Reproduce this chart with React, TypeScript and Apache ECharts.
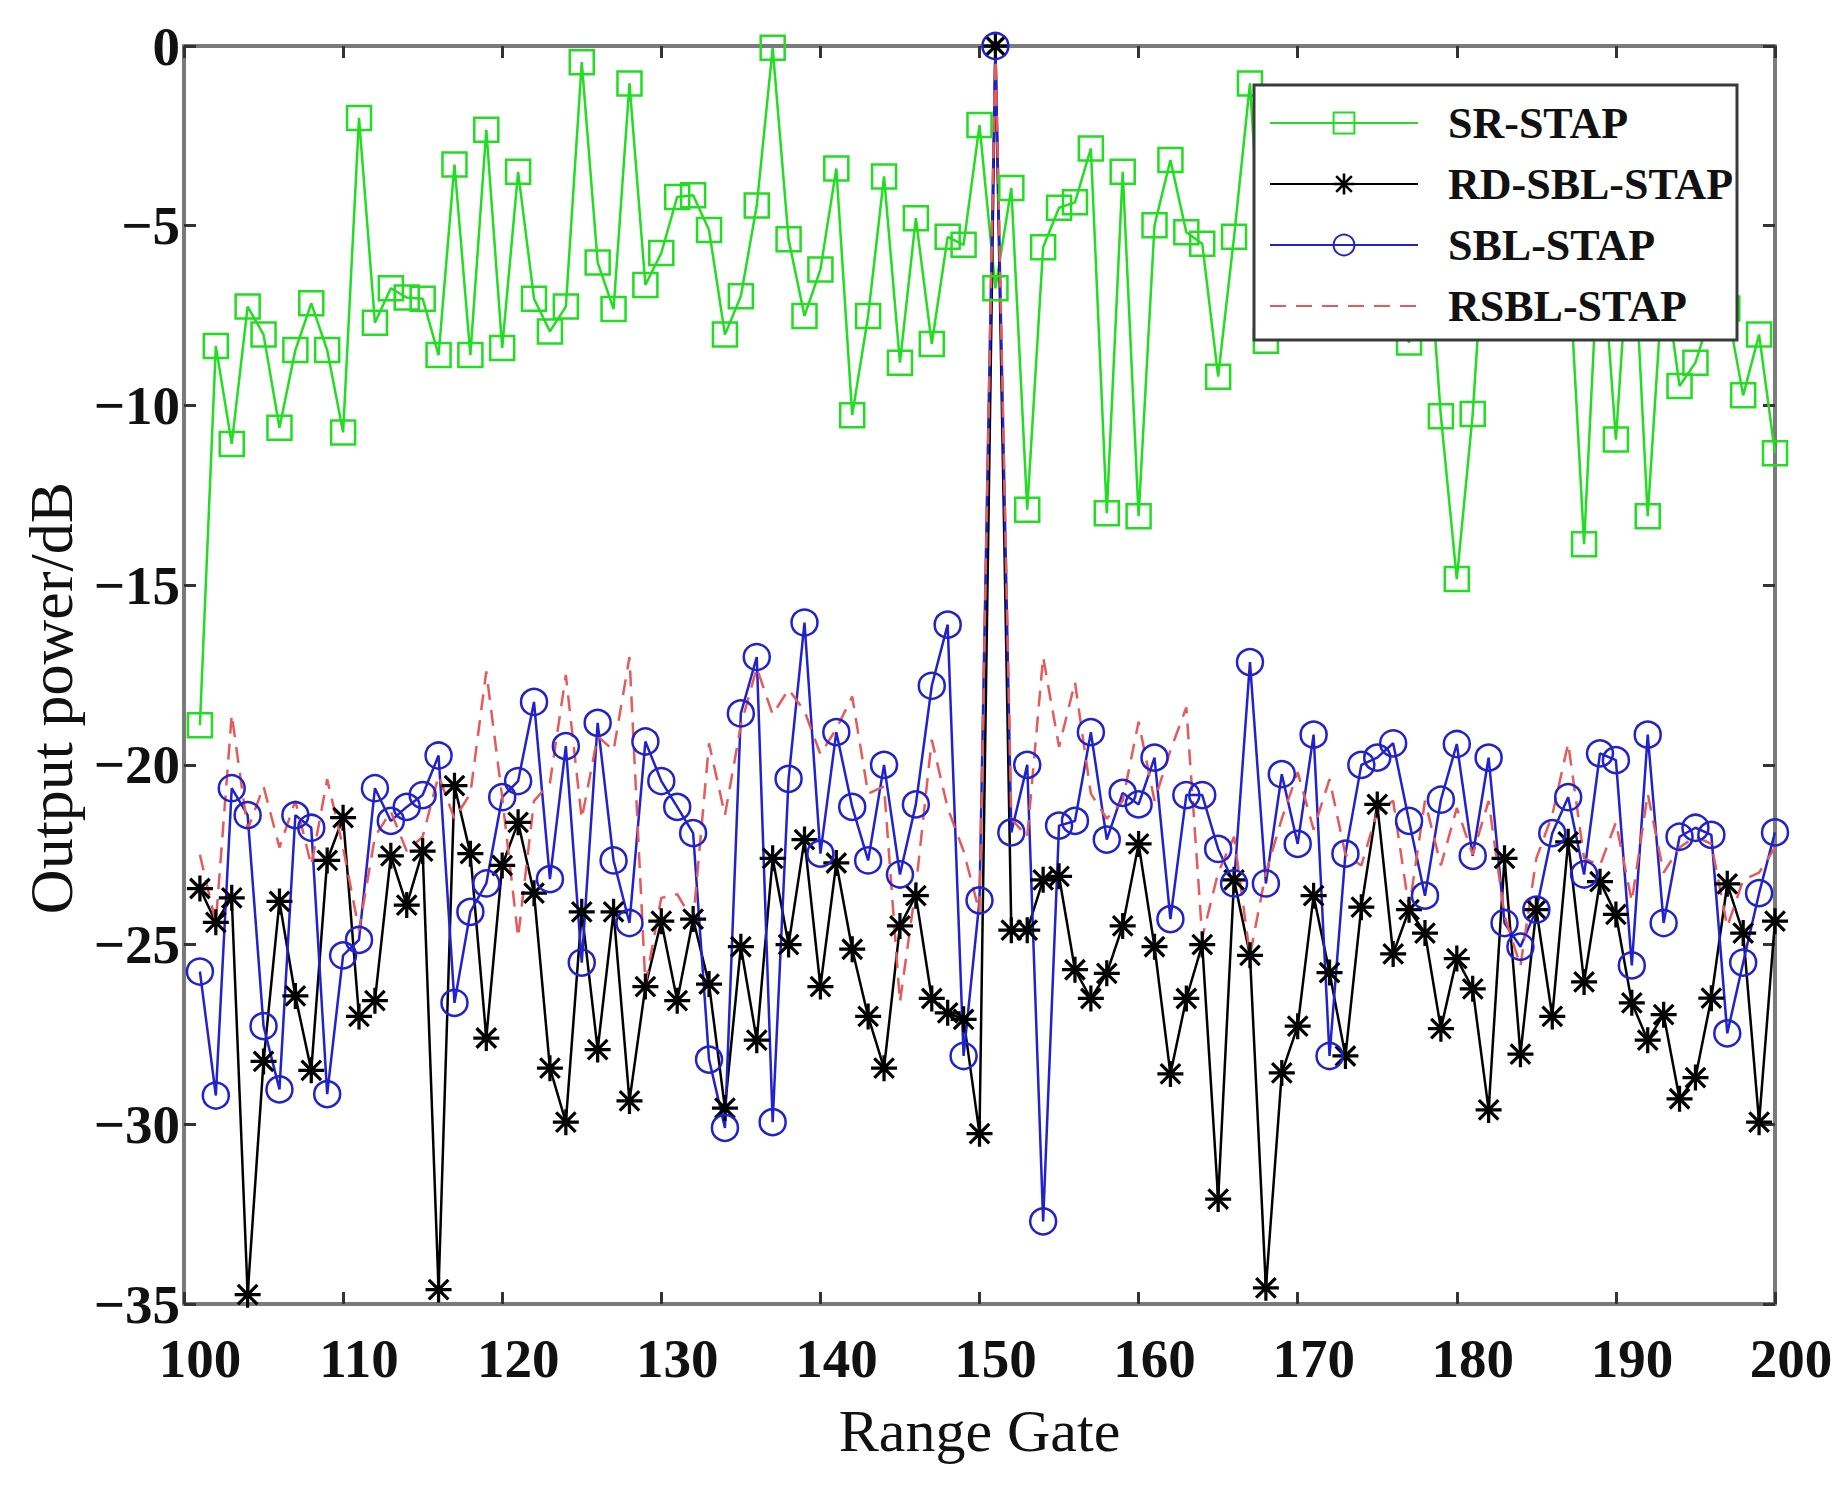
import { useEffect, useRef } from "react";
import * as echarts from "echarts";

// range gates 101..200 (one point per gate)
const gates = Array.from({ length: 100 }, (_, i) => 101 + i);

const srStap = [
  -18.9, -8.35, -11.07, -7.25, -8.03, -10.62, -8.46, -7.16, -8.46, -10.75,
  -2.0, -7.7, -6.74, -7.0, -7.03, -8.6, -3.3, -8.6, -2.33, -8.4,
  -3.5, -7.03, -7.94, -7.25, -0.45, -6.02, -7.32, -1.04, -6.65, -5.76,
  -4.2, -4.15, -5.12, -8.03, -6.96, -4.44, -0.05, -5.38, -7.51, -6.22,
  -3.41, -10.27, -7.51, -3.63, -8.81, -4.79, -8.29, -5.31, -5.53, -2.2,
  -6.74, -3.95, -12.9, -5.6, -4.5, -4.35, -2.85, -13.0, -3.5, -13.08,
  -4.99, -3.17, -5.18, -5.5, -9.2, -5.31, -1.04, -8.2, -3.6, -6.1,
  -4.7, -2.6, -6.4, -5.2, -3.9, -6.8, -8.25, -4.2, -10.3, -14.83,
  -10.24, -3.4, -6.3, -4.6, -7.0, -3.8, -5.7, -13.86, -4.8, -10.95,
  -4.3, -13.08, -6.2, -9.46, -8.81, -7.4, -7.3, -9.72, -8.03, -11.33,
];

const rdSblStap = [
  -23.44, -24.38, -23.7, -34.74, -28.25, -23.8, -26.43, -28.5, -22.66, -21.47,
  -27.0, -26.56, -22.53, -23.9, -22.4, -34.6, -20.58, -22.47, -27.6, -22.8,
  -21.6, -23.57, -28.44, -29.94, -24.09, -27.92, -24.09, -29.35, -26.17, -24.35,
  -26.56, -24.29, -26.1, -29.55, -25.06, -27.66, -22.6, -25.0, -22.08, -26.17,
  -22.73, -25.13, -27.0, -28.44, -24.48, -23.64, -26.5, -26.9, -27.08, -30.26,
  0, -24.6, -24.6, -23.2, -23.1, -25.7, -26.5, -25.8, -24.48, -22.2,
  -25.06, -28.6, -26.5, -25.0, -32.08, -23.2, -25.3, -34.55, -28.57, -27.27,
  -23.64, -25.78, -28.1, -23.96, -21.1, -25.26, -24.03, -24.68, -27.34, -25.39,
  -26.23, -29.6, -22.6, -28.05, -24.03, -27.0, -22.14, -26.04, -23.25, -24.16,
  -26.62, -27.66, -26.95, -29.29, -28.7, -26.49, -23.31, -24.68, -29.94, -24.35,
];

const sblStap = [
  -25.75, -29.2, -20.65, -21.4, -27.27, -29.03, -21.4, -21.75, -29.16, -25.3,
  -24.87, -20.65, -21.56, -21.17, -20.84, -19.74, -26.62, -24.09, -23.3, -20.9,
  -20.45, -18.25, -23.18, -19.48, -25.5, -18.83, -22.66, -24.4, -19.35, -20.45,
  -21.17, -21.9, -28.2, -30.1, -18.57, -17.0, -29.94, -20.39, -16.04, -22.47,
  -19.09, -21.17, -22.66, -20.0, -23.05, -21.1, -17.8, -16.1, -28.1, -23.77,
  0, -21.88, -20.0, -32.7, -21.69, -21.56, -19.09, -22.08, -20.78, -21.1,
  -19.8, -24.29, -20.84, -20.84, -22.34, -23.3, -17.14, -23.3, -20.26, -22.2,
  -19.16, -28.1, -22.47, -20.0, -19.8, -19.4, -21.56, -23.64, -20.97, -19.42,
  -22.53, -19.8, -24.4, -25.06, -24.03, -21.9, -20.9, -23.05, -19.68, -19.87,
  -25.58, -19.16, -24.4, -22.0, -21.75, -21.95, -27.47, -25.5, -23.57, -21.88,
];

const rsblStap = [
  -22.5, -24.4, -18.6, -21.8, -20.6, -22.3, -21.0, -22.8, -20.4, -22.3,
  -24.6, -22.0, -21.3, -22.4, -22.0, -20.3, -21.5, -20.8, -17.4, -20.9,
  -24.8, -21.0, -20.5, -17.5, -21.5, -19.2, -19.6, -17.0, -26.1, -23.7,
  -23.6, -24.35, -19.4, -21.4, -18.9, -17.3, -18.6, -17.9, -18.5, -19.7,
  -19.0, -18.1, -20.8, -20.6, -26.6, -23.4, -19.3, -21.2, -22.4, -24.1,
  0, -21.5, -22.0, -17.0, -19.5, -17.7, -20.8, -21.5, -21.0, -18.8,
  -21.0, -19.6, -18.4, -24.8, -23.0, -22.0, -25.3, -23.0, -21.5, -20.2,
  -21.8, -20.4, -22.5, -22.8, -21.3, -21.0, -24.0, -21.0, -22.8, -21.2,
  -22.5, -21.0, -24.2, -25.6, -22.6, -21.4, -19.4, -22.6, -22.8, -21.6,
  -23.8, -20.8, -23.0, -22.3, -22.0, -22.2, -24.5, -23.2, -23.0, -22.3,
];

const seriesNames = ["SR-STAP", "RD-SBL-STAP", "SBL-STAP", "RSBL-STAP"];

// MATLAB-like asterisk marker
const asterisk =
  "path://M0 10.5H24V13.5H0Z M10.5 0H13.5V24H10.5Z M1.94 4.06L4.06 1.94L22.06 19.94L19.94 22.06Z M19.94 1.94L22.06 4.06L4.06 22.06L1.94 19.94Z";

const serif = "'Liberation Serif', 'Times New Roman', serif";

const pairs = (vals: number[]) => gates.map((g, i) => [g, vals[i]]);

export default function App() {
  const chartRef = useRef<HTMLDivElement>(null);

  useEffect(() => {
    if (!chartRef.current) return;
    const chart = echarts.init(chartRef.current, undefined, { renderer: "svg" });

    const minus = (v: number) => (v < 0 ? "\u2212" + Math.abs(v) : String(v));
    const boxLine = { show: true, onZero: false, lineStyle: { color: "#7a7a7a", width: 4 } };
    const tick = { show: true, inside: true, length: 12, lineStyle: { color: "#333", width: 3 } };

    const option: echarts.EChartsOption = {
      animation: false,
      backgroundColor: "#fff",
      grid: { left: 184, top: 46, width: 1591, height: 1258 },
      xAxis: [
        {
          type: "value",
          min: 100,
          max: 200,
          interval: 10,
          name: "Range Gate",
          nameLocation: "middle",
          nameGap: 97,
          nameTextStyle: { fontFamily: serif, fontSize: 60, color: "#111", lineHeight: 60 },
          axisLine: boxLine,
          axisTick: tick,
          splitLine: { show: false },
          axisLabel: {
            margin: 27,
            fontFamily: serif,
            fontWeight: "bold",
            fontSize: 55,
            lineHeight: 55,
            color: "#111",
            padding: [0, 0, 0, 32],
          },
        },
        {
          type: "value",
          position: "top",
          min: 100,
          max: 200,
          interval: 10,
          axisLine: boxLine,
          axisTick: tick,
          axisLabel: { show: false },
          splitLine: { show: false },
        },
      ],
      yAxis: [
        {
          type: "value",
          min: -35,
          max: 0,
          interval: 5,
          name: "Output power/dB",
          nameLocation: "middle",
          nameGap: 102,
          nameTextStyle: {
            fontFamily: serif,
            fontSize: 62,
            color: "#111",
            lineHeight: 62,
            padding: [0, 46, 0, 0],
          },
          axisLine: boxLine,
          axisTick: tick,
          splitLine: { show: false },
          axisLabel: {
            margin: 4,
            fontFamily: serif,
            fontWeight: "bold",
            fontSize: 55,
            color: "#111",
            padding: [8, 0, 0, 0],
            formatter: minus,
          },
        },
        {
          type: "value",
          position: "right",
          min: -35,
          max: 0,
          interval: 5,
          axisLine: boxLine,
          axisTick: tick,
          axisLabel: { show: false },
          splitLine: { show: false },
        },
      ],
      graphic: [
        {
          type: "rect",
          z: 10,
          shape: { x: 1254, y: 85, width: 483, height: 255 },
          style: { fill: "#fff", stroke: "#3a3a3a", lineWidth: 3 },
        },
      ],
      legend: {
        z: 20,
        orient: "vertical",
        left: 1269,
        top: 101,
        padding: 0,
        itemWidth: 148,
        itemHeight: 26,
        itemGap: 17,
        selectedMode: false,
        data: seriesNames,
        textStyle: {
          fontFamily: serif,
          fontWeight: "bold",
          fontSize: 44,
          lineHeight: 44,
          color: "#111",
          padding: [0, 0, 0, 25],
        },
      },
      series: [
        {
          name: seriesNames[0],
          type: "line",
          data: pairs(srStap),
          symbol: "rect",
          symbolSize: 24,
          itemStyle: { color: "rgba(0,0,0,0)", borderColor: "#22dd22", borderWidth: 2.5 },
          lineStyle: { color: "#22dd22", width: 2.5 },
        },
        {
          name: seriesNames[1],
          type: "line",
          data: pairs(rdSblStap),
          symbol: asterisk,
          symbolSize: 26,
          itemStyle: { color: "#000" },
          lineStyle: { color: "#000", width: 2.5 },
        },
        {
          name: seriesNames[2],
          type: "line",
          data: pairs(sblStap),
          symbol: "circle",
          symbolSize: 26,
          itemStyle: { color: "rgba(0,0,0,0)", borderColor: "#2222cc", borderWidth: 2.5 },
          lineStyle: { color: "#2222cc", width: 2.5 },
        },
        {
          name: seriesNames[3],
          type: "line",
          data: pairs(rsblStap),
          symbol: "circle",
          showSymbol: false,
          itemStyle: { color: "rgba(0,0,0,0)", borderWidth: 0 },
          lineStyle: { color: "#e65a5a", width: 2.5, type: [16, 10] },
        },
      ],
    };

    chart.setOption(option);
    return () => {
      chart.dispose();
    };
  }, []);

  return (
    <div
      ref={chartRef}
      style={{ position: "fixed", left: 0, top: 0, width: "1844px", height: "1495px", background: "#fff" }}
    />
  );
}
